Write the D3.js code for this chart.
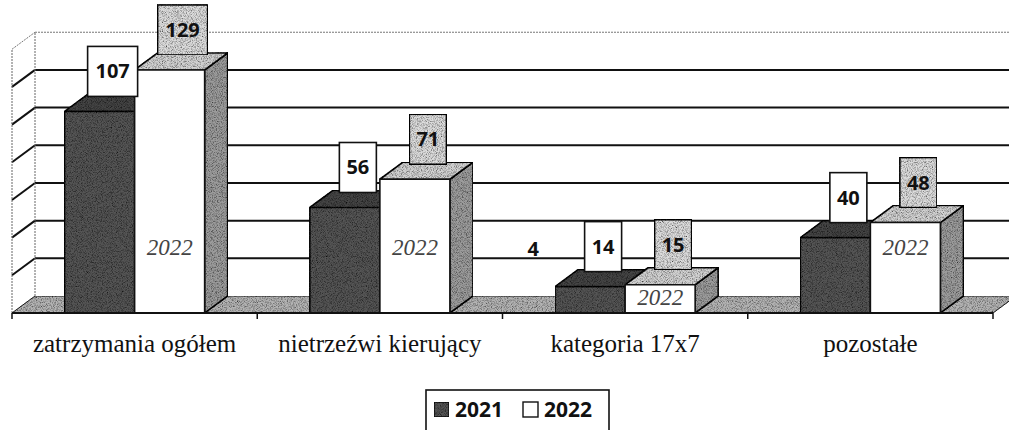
<!DOCTYPE html>
<html>
<head>
<meta charset="utf-8">
<script src="https://cdnjs.cloudflare.com/ajax/libs/d3/7.8.5/d3.min.js"></script>
<style>
  html, body { margin: 0; padding: 0; background: #fff; }
  svg { display: block; }
  .cat-label { font-family: "Liberation Serif", "Times New Roman", serif; font-size: 25px; fill: #111; }
  .val-label { font-family: "Open Sans", "Liberation Sans", sans-serif; font-weight: 700; font-size: 20px; fill: #111; }
  .hand { font-family: "Liberation Serif", serif; font-style: italic; font-size: 23px; fill: #444; }
  .legend-text { font-family: "Open Sans", "Liberation Sans", sans-serif; font-weight: 700; font-size: 21px; fill: #111; }
</style>
</head>
<body>
<div id="chart"></div>
<script>
'use strict';

var categories = ['zatrzymania ogółem', 'nietrzeźwi kierujący', 'kategoria 17x7', 'pozostałe'];
var seriesNames = ['2021', '2022'];
var values2021 = [107, 56, 14, 40];
var values2022 = [129, 71, 15, 48];
var yTicks = [0, 20, 40, 60, 80, 100, 120, 140];
var handNote = '2022';
var strayNote = '4';

var width = 1009, height = 430;
var depthX = 23, depthY = 17;

var svg = d3.select('#chart').append('svg')
    .attr('width', width)
    .attr('height', height);

// scan grain
var defs = svg.append('defs');
var grain = defs.append('filter').attr('id', 'grain')
    .attr('x', 0).attr('y', 0).attr('width', 1).attr('height', 1);
grain.append('feTurbulence')
    .attr('type', 'fractalNoise')
    .attr('baseFrequency', 1.2)
    .attr('numOctaves', 1)
    .attr('seed', 3)
    .attr('result', 'noise');
grain.append('feColorMatrix')
    .attr('in', 'noise')
    .attr('type', 'matrix')
    .attr('values', '0 0 0 0 0  0 0 0 0 0  0 0 0 0 0  0 0 0 2.2 -0.9')
    .attr('result', 'dots');
grain.append('feComposite')
    .attr('in', 'dots')
    .attr('in2', 'SourceGraphic')
    .attr('operator', 'in')
    .attr('result', 'dotsIn');
var gm = grain.append('feMerge');
gm.append('feMergeNode').attr('in', 'SourceGraphic');
gm.append('feMergeNode').attr('in', 'dotsIn');

var x0 = d3.scaleBand()
    .domain(categories)
    .range([12, 993])
    .paddingInner(0.429)
    .paddingOuter(0.2145);

var x1 = d3.scaleBand()
    .domain(seriesNames)
    .range([0, x0.bandwidth()]);

var y = d3.scaleLinear()
    .domain([0, 140])
    .range([313, 313 - 140 * 1.884]);

var yBase = y(0);
var xLeft = x0.range()[0], xRight = x0.range()[1];

// back wall gridlines
var wall = svg.append('g');
wall.selectAll('line.grid')
  .data(yTicks.slice(1))
  .enter().append('line')
    .attr('x1', xLeft + depthX)
    .attr('x2', xRight + depthX + 20)
    .attr('y1', function(d) { return y(d) - depthY; })
    .attr('y2', function(d) { return y(d) - depthY; })
    .attr('stroke', function(d) { return d === 140 ? '#777' : '#111'; })
    .attr('stroke-width', function(d) { return d === 140 ? 1 : 2; })
    .attr('stroke-dasharray', function(d) { return d === 140 ? '2,1' : null; });

// left side wall
wall.selectAll('line.side')
  .data(yTicks.slice(1))
  .enter().append('line')
    .attr('x1', xLeft)
    .attr('x2', xLeft + depthX)
    .attr('y1', function(d) { return y(d); })
    .attr('y2', function(d) { return y(d) - depthY; })
    .attr('stroke', function(d) { return d === 140 ? '#777' : '#111'; })
    .attr('stroke-width', function(d) { return d === 140 ? 1 : 2; })
    .attr('stroke-dasharray', function(d) { return d === 140 ? '2,1' : null; });

wall.append('line')
    .attr('x1', xLeft).attr('x2', xLeft)
    .attr('y1', yBase).attr('y2', y(140))
    .attr('stroke', '#666').attr('stroke-width', 1).attr('stroke-dasharray', '2,1');
wall.append('line')
    .attr('x1', xLeft + depthX).attr('x2', xLeft + depthX)
    .attr('y1', yBase - depthY).attr('y2', y(140) - depthY)
    .attr('stroke', '#666').attr('stroke-width', 1).attr('stroke-dasharray', '2,1');

// floor
svg.append('path')
    .attr('d', d3.line()([
      [xLeft, yBase], [xRight, yBase],
      [xRight + depthX, yBase - depthY], [xLeft + depthX, yBase - depthY]
    ]) + 'Z')
    .attr('fill', '#b4b4b4')
    .attr('stroke', '#222')
    .attr('stroke-width', 1)
    .attr('filter', 'url(#grain)');

// bars
var rows = categories.map(function(c, i) {
  return { cat: c, vals: [values2021[i], values2022[i]] };
});

var faces = {
  '2021': { front: '#555555', top: '#444444', side: '#3a3a3a' },
  '2022': { front: '#ffffff', top: '#d2d2d2', side: '#9c9c9c' }
};

var bars = svg.append('g');
var labels = svg.append('g');

rows.forEach(function(row) {
  seriesNames.forEach(function(s, j) {
    var v = row.vals[j];
    var bx = x0(row.cat) + x1(s);
    var bw = x1.bandwidth();
    var yt = y(v);
    var g = bars.append('g')
        .attr('stroke', '#111')
        .attr('stroke-width', 1.6)
        .attr('stroke-linejoin', 'round');

    g.append('path')
        .attr('d', d3.line()([
          [bx + bw, yt], [bx + bw + depthX, yt - depthY],
          [bx + bw + depthX, yBase - depthY], [bx + bw, yBase]
        ]) + 'Z')
        .attr('fill', faces[s].side)
        .attr('filter', 'url(#grain)');
    g.append('path')
        .attr('d', d3.line()([
          [bx, yt], [bx + bw, yt],
          [bx + bw + depthX, yt - depthY], [bx + depthX, yt - depthY]
        ]) + 'Z')
        .attr('fill', faces[s].top)
        .attr('filter', 'url(#grain)');
    g.append('rect')
        .attr('x', bx)
        .attr('y', yt)
        .attr('width', bw)
        .attr('height', yBase - yt)
        .attr('fill', faces[s].front)
        .attr('filter', s === '2021' ? 'url(#grain)' : null);

    if (s === '2022') {
      bars.append('text')
          .attr('class', 'hand')
          .attr('x', bx + bw / 2)
          .attr('y', Math.min(Math.max(yt + 30, 255), 305))
          .attr('text-anchor', 'middle')
          .text(handNote);
    }

    // value label box
    var txt = String(v);
    var boxW = txt.length > 2 ? 50 : 37;
    var boxH = 50;
    var cx = bx + bw / 2 + 13;
    var by = yt - 15 - boxH;
    var lg = labels.append('g');
    lg.append('rect')
        .attr('x', cx - boxW / 2)
        .attr('y', by)
        .attr('width', boxW)
        .attr('height', boxH)
        .attr('fill', s === '2021' ? '#ffffff' : '#dcdcdc')
        .attr('stroke', '#111')
        .attr('stroke-width', 1.6)
        .attr('filter', s === '2021' ? null : 'url(#grain)');
    lg.append('text')
        .attr('class', 'val-label')
        .attr('x', cx)
        .attr('y', by + boxH / 2 + 7)
        .attr('text-anchor', 'middle')
        .text(txt);
  });
});

// stray "4" label, left of the third group
labels.append('text')
    .attr('class', 'val-label')
    .attr('x', x0(categories[2]) - 22)
    .attr('y', y(34) + 7)
    .attr('text-anchor', 'middle')
    .text(strayNote);

// category axis
var axisG = svg.append('g');
axisG.append('line')
    .attr('x1', xLeft).attr('x2', xRight)
    .attr('y1', yBase).attr('y2', yBase)
    .attr('stroke', '#111').attr('stroke-width', 2);

var bounds = d3.range(categories.length + 1).map(function(i) {
  return xLeft + i * x0.step();
});
axisG.selectAll('line.tick')
  .data(bounds)
  .enter().append('line')
    .attr('x1', function(d) { return d; })
    .attr('x2', function(d) { return d; })
    .attr('y1', yBase)
    .attr('y2', yBase + 6)
    .attr('stroke', '#111')
    .attr('stroke-width', 1.5);

axisG.selectAll('text.cat-label')
  .data(categories)
  .enter().append('text')
    .attr('class', 'cat-label')
    .attr('x', function(d) { return x0(d) + x0.bandwidth() / 2; })
    .attr('y', 352)
    .attr('text-anchor', 'middle')
    .text(function(d) { return d; });

// legend
var legend = svg.append('g');
legend.append('rect')
    .attr('x', 426).attr('y', 390)
    .attr('width', 183).attr('height', 50)
    .attr('fill', '#fff')
    .attr('stroke', '#111')
    .attr('stroke-width', 1.6);

var legendItems = legend.selectAll('g.item')
  .data(seriesNames)
  .enter().append('g')
    .attr('transform', function(d, i) { return 'translate(' + (434 + i * 89) + ',402)'; });

legendItems.append('rect')
    .attr('width', 15)
    .attr('height', 15)
    .attr('fill', function(d) { return faces[d].front; })
    .attr('stroke', '#111')
    .attr('stroke-width', 1.4)
    .attr('filter', function(d) { return d === '2021' ? 'url(#grain)' : null; });

legendItems.append('text')
    .attr('class', 'legend-text')
    .attr('x', 21)
    .attr('y', 15)
    .text(function(d) { return d; });
</script>
</body>
</html>
